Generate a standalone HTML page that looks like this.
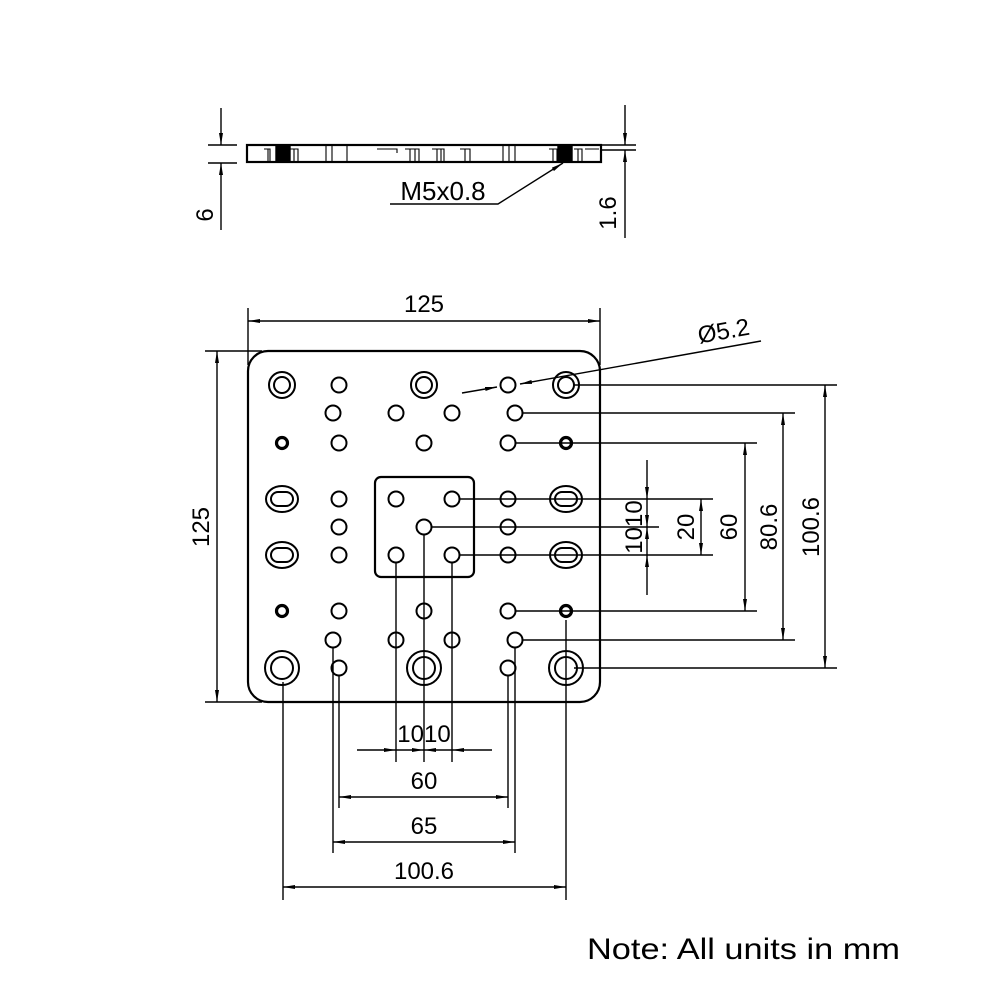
<!DOCTYPE html>
<html><head><meta charset="utf-8"><style>html,body{margin:0;padding:0;background:#fff}svg{display:block}</style></head>
<body>
<svg width="1000" height="1000" viewBox="0 0 1000 1000" xmlns="http://www.w3.org/2000/svg" font-family="Liberation Sans, Arial, sans-serif">
<defs>
<marker id="a" viewBox="0 0 12 4" refX="12" refY="2" markerWidth="12" markerHeight="4" markerUnits="userSpaceOnUse" orient="auto-start-reverse"><path d="M0,0L12,2L0,4Z" fill="#000"/></marker>
</defs>
<g stroke="#000" fill="none" stroke-width="1.4">
<rect x="247" y="145" width="354" height="17" stroke-width="2.2"/>
<g stroke-width="1.1">
<path d="M264 149h6v13M268 149v13M290 149h8v13M294 149v13M326 145v17M332 145v17M347 145v17M377 149h20v4M405 149h14v13M410 149v13M415 149v13M432 149h12v13M437 149v13M441 149v13M460 149h10v13M465 149v13M503 145v17M509 145v17M515 145v17M549 149h8v13M553 149v13M574 149h8v13M578 149v13M585 149h14"/>
</g>
<rect x="276" y="146" width="14" height="16" fill="#000"/>
<rect x="558" y="146" width="14" height="16" fill="#000"/>
<path d="M208 145h29M208 163h29"/>
<path d="M221 108V145" marker-end="url(#a)"/>
<path d="M221 230V163" marker-end="url(#a)"/>
<path d="M601 145h35M601 150h35"/>
<path d="M625 105V145" marker-end="url(#a)"/>
<path d="M625 238V150" marker-end="url(#a)"/>
<path d="M390 204H498L563 163" marker-end="url(#a)"/>

<rect x="248" y="351" width="352" height="351" rx="20" stroke-width="2.2"/>
<rect x="375" y="477" width="99" height="100" rx="6" stroke-width="2.2"/>

<g stroke-width="2">
<circle cx="339" cy="385" r="7.5"/><circle cx="508" cy="385" r="7.5"/>
<circle cx="333" cy="413" r="7.5"/><circle cx="396" cy="413" r="7.5"/><circle cx="452" cy="413" r="7.5"/><circle cx="515" cy="413" r="7.5"/>
<circle cx="339" cy="443" r="7.5"/><circle cx="424" cy="443" r="7.5"/><circle cx="508" cy="443" r="7.5"/>
<circle cx="339" cy="499" r="7.5"/><circle cx="396" cy="499" r="7.5"/><circle cx="452" cy="499" r="7.5"/><circle cx="508" cy="499" r="7.5"/>
<circle cx="339" cy="527" r="7.5"/><circle cx="424" cy="527" r="7.5"/><circle cx="508" cy="527" r="7.5"/>
<circle cx="339" cy="555" r="7.5"/><circle cx="396" cy="555" r="7.5"/><circle cx="452" cy="555" r="7.5"/><circle cx="508" cy="555" r="7.5"/>
<circle cx="339" cy="611" r="7.5"/><circle cx="424" cy="611" r="7.5"/><circle cx="508" cy="611" r="7.5"/>
<circle cx="333" cy="640" r="7.5"/><circle cx="396" cy="640" r="7.5"/><circle cx="452" cy="640" r="7.5"/><circle cx="515" cy="640" r="7.5"/>
<circle cx="339" cy="668" r="7.5"/><circle cx="508" cy="668" r="7.5"/>
<circle cx="282" cy="385" r="13"/><circle cx="282" cy="385" r="8"/>
<circle cx="424" cy="385" r="13"/><circle cx="424" cy="385" r="8"/>
<circle cx="566" cy="385" r="13"/><circle cx="566" cy="385" r="8"/>
<circle cx="282" cy="668" r="17"/><circle cx="282" cy="668" r="11"/>
<circle cx="424" cy="668" r="17"/><circle cx="424" cy="668" r="11"/>
<circle cx="566" cy="668" r="17"/><circle cx="566" cy="668" r="11"/>
<ellipse cx="282" cy="499" rx="16" ry="13"/><rect x="271" y="492" width="22" height="14" rx="7"/>
<ellipse cx="282" cy="555" rx="16" ry="13"/><rect x="271" y="548" width="22" height="14" rx="7"/>
<ellipse cx="566" cy="499" rx="16" ry="13"/><rect x="555" y="492" width="22" height="14" rx="7"/>
<ellipse cx="566" cy="555" rx="16" ry="13"/><rect x="555" y="548" width="22" height="14" rx="7"/>
</g>
<g stroke-width="3.2">
<circle cx="282" cy="443" r="5.5"/><circle cx="566" cy="443" r="5.5"/>
<circle cx="282" cy="611" r="5.5"/><circle cx="566" cy="611" r="5.5"/>
</g>

<path d="M248 308V365M600 308V365"/>
<path d="M248 321H600" marker-start="url(#a)" marker-end="url(#a)"/>
<path d="M205 351H262M205 702H262"/>
<path d="M217 351V702" marker-start="url(#a)" marker-end="url(#a)"/>

<path d="M574 385H837M523 413H795M516 443H757M460 499H713M432 527H659M460 555H713M516 611H757M523 640H795M574 668H837"/>
<path d="M825 385V668" marker-start="url(#a)" marker-end="url(#a)"/>
<path d="M783 413V640" marker-start="url(#a)" marker-end="url(#a)"/>
<path d="M745 443V611" marker-start="url(#a)" marker-end="url(#a)"/>
<path d="M701 499V555" marker-start="url(#a)" marker-end="url(#a)"/>
<path d="M647 460V499" marker-end="url(#a)"/>
<path d="M647 499V527" marker-end="url(#a)"/>
<path d="M647 555V527" marker-end="url(#a)"/>
<path d="M647 595V555" marker-end="url(#a)"/>

<path d="M283 682V900M333 648V853M339 676V808M396 563V762M424 535V762M452 563V762M508 676V808M515 648V853M566 620V900"/>
<path d="M357 750H396" marker-end="url(#a)"/>
<path d="M396 750H424" marker-end="url(#a)"/>
<path d="M452 750H424" marker-end="url(#a)"/>
<path d="M492 750H452" marker-end="url(#a)"/>
<path d="M339 797H508" marker-start="url(#a)" marker-end="url(#a)"/>
<path d="M333 842H515" marker-start="url(#a)" marker-end="url(#a)"/>
<path d="M283 887H566" marker-start="url(#a)" marker-end="url(#a)"/>

<path d="M761 341L520 384" marker-end="url(#a)"/>
<path d="M462 393L497 387" marker-end="url(#a)"/>
</g>

<g font-size="24" fill="#000" text-anchor="middle">
<text x="443" y="200" font-size="26">M5x0.8</text>
<text transform="translate(213,215) rotate(-90)">6</text>
<text transform="translate(616,213) rotate(-90)">1.6</text>
<text x="424" y="312">125</text>
<text transform="translate(209,527) rotate(-90)">125</text>
<text transform="translate(725,339) rotate(-10)">Ø5.2</text>
<text transform="translate(642,527) rotate(-90)">1010</text>
<text transform="translate(694,527) rotate(-90)">20</text>
<text transform="translate(737,527) rotate(-90)">60</text>
<text transform="translate(777,527) rotate(-90)">80.6</text>
<text transform="translate(819,527) rotate(-90)">100.6</text>
<text x="424" y="742">1010</text>
<text x="424" y="789">60</text>
<text x="424" y="834">65</text>
<text x="424" y="879">100.6</text>
</g>
<text x="587" y="959" font-size="30" textLength="313" lengthAdjust="spacingAndGlyphs" fill="#000">Note: All units in mm</text>
</svg>
</body></html>
